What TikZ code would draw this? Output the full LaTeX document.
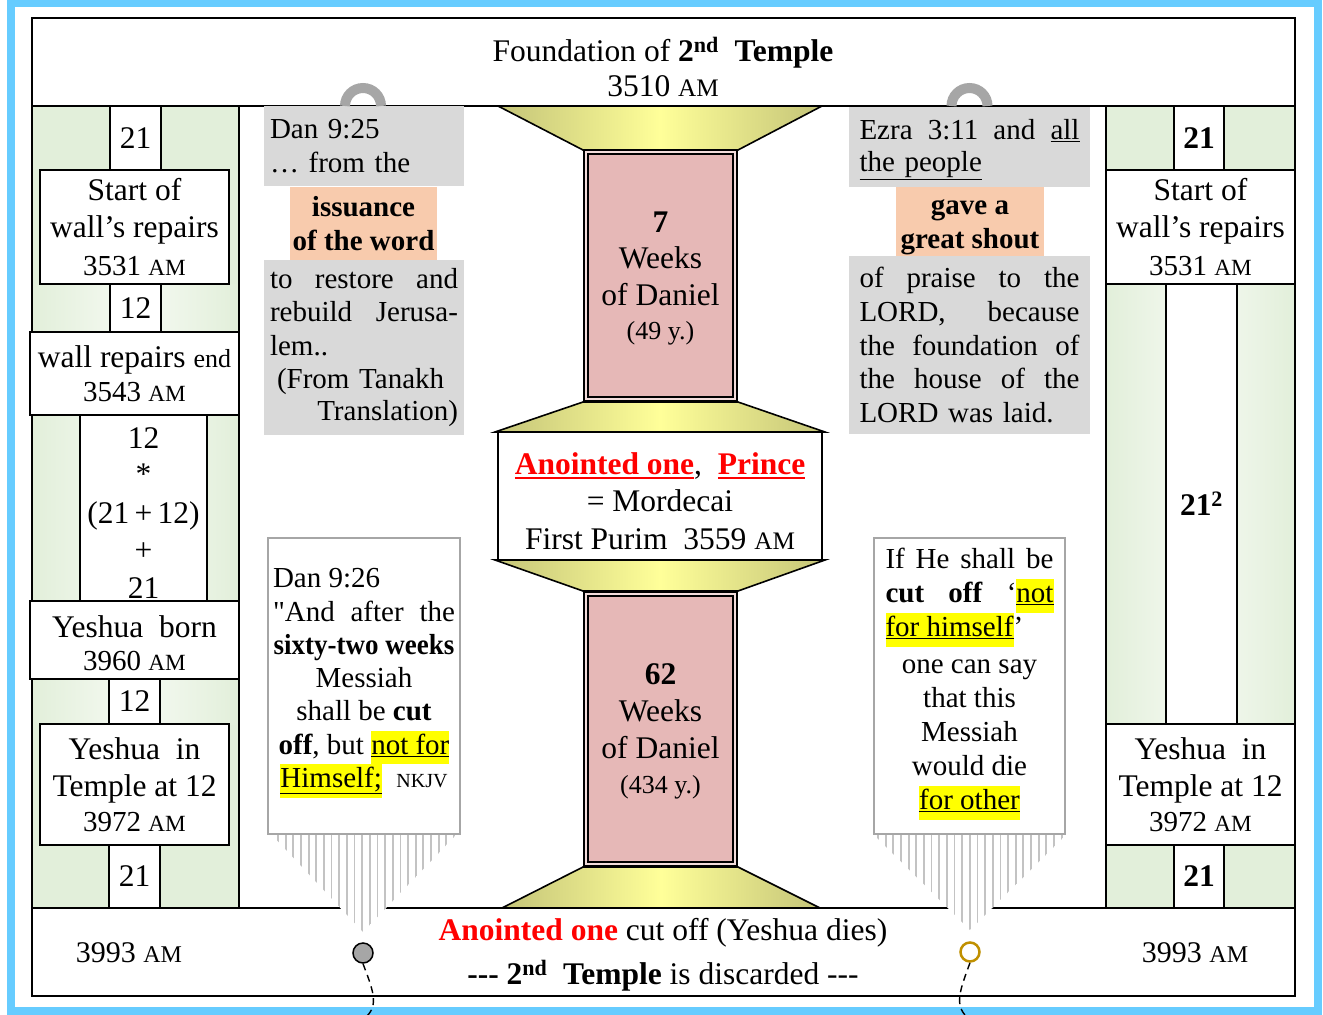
\documentclass[tikz,border=0pt]{standalone}
\usepackage{fontspec}
\setmainfont{Liberation Serif}
\usepackage{graphicx}
\definecolor{bluefr}{RGB}{102,204,255}
\definecolor{grn}{RGB}{226,239,218}
\definecolor{grnl}{RGB}{246,250,243}
\definecolor{gbox}{RGB}{217,217,217}
\definecolor{obox}{RGB}{248,203,173}
\definecolor{pnk}{RGB}{230,184,183}
\definecolor{pnkl}{RGB}{242,220,219}
\definecolor{ylw}{RGB}{255,255,153}
\definecolor{olv}{RGB}{196,196,120}
\definecolor{frg}{RGB}{195,195,195}
\definecolor{gbd}{RGB}{166,166,166}
\definecolor{gold}{RGB}{192,144,0}
\definecolor{hly}{RGB}{255,255,0}
\definecolor{redt}{RGB}{255,0,0}
\newcommand\AM{\scalebox{0.8}{AM}}
\newcommand\dt[1]{{\fontsize{29}{34}\selectfont #1 \AM}}
\newcommand\hlu[1]{{\setlength\fboxsep{0pt}\colorbox{hly}{\strut\underline{#1}}}}
\newcommand\js{\hskip 0.25em plus 1fill\relax}
\newsavebox\ulbox
\newcommand\thul[1]{\sbox\ulbox{#1}\rlap{\rule[-5pt]{\wd\ulbox}{2.8pt}}\usebox\ulbox}
\begin{document}
\begin{tikzpicture}[x=1pt,y=-1pt,
  blk/.style={draw=black, line width=1.6pt},
  bigf/.style={font=\fontsize{31.5}{37.5}\selectfont},
  txtf/.style={font=\fontsize{29}{34}\selectfont},
  wbox/.style={blk, fill=white, inner sep=0pt, align=center, bigf},
  gbx/.style={fill=gbox, inner sep=0pt, align=left, txtf},
  obx/.style={fill=obox, inner sep=0pt, align=center, font=\fontsize{29}{34}\selectfont\bfseries},
  tbox/.style={draw=gbd, line width=1.5pt, fill=white, inner sep=0pt},
  pbox/.style={draw=black, line width=1.8pt, double=pnkl, double distance=2pt, fill=pnk, inner sep=0pt, align=center, bigf},
  trap/.style={draw=black, line width=1.6pt, left color=olv, right color=olv, middle color=ylw},
  fringe/.style={draw=frg, line width=1.8pt},
  dashln/.style={draw=black, line width=1.4pt, dash pattern=on 7pt off 5pt},
  ring/.style={draw=gbd, line width=10pt},
  plain/.style={inner sep=0pt, align=center}]
\useasboundingbox (0,0) rectangle (1323,1015);
\fill[white] (0,0) rectangle (1323,1015);
\draw[bluefr, line width=8pt] (11,3) rectangle (1318,1011);
% main frame
\draw[blk] (32,18) rectangle (1295,996);
\draw[blk] (32,106) -- (1295,106);
\draw[blk] (32,908) -- (1295,908);
% title
\node[plain, bigf] (title) at (663,67) {Foundation of \textbf{2\textsuperscript{nd}}\ \ \textbf{Temple}\\[-3pt]3510 \AM};
% left column
\fill[grn] (32,106) rectangle (239,908);
\shade[left color=grn, right color=grn, middle color=grnl] (32,284) rectangle (239,332);
\shade[left color=grn, right color=grn, middle color=grnl] (32,415) rectangle (239,601);
\shade[left color=grn, right color=grn, middle color=grnl] (32,679) rectangle (239,724);
\draw[blk] (32,106) rectangle (239,908);
\node[wbox, minimum width=51, minimum height=64] (l21a) at (135.5,138) {21};
\node[wbox, minimum width=189, minimum height=114] (lsr) at (134.5,227) {Start of\\wall's repairs\\\dt{3531}};
\node[wbox, minimum width=51, minimum height=48] (l12a) at (135.5,308) {12};
\node[wbox, minimum width=209, minimum height=83] (lwe) at (134.5,373.5) {wall repairs {\fontsize{26}{31}\selectfont end}\\[-3pt]\dt{3543}};
\node[wbox, minimum width=127, minimum height=186] (lcalc) at (143.5,508) {\rule{0pt}{30pt}12\\[-1pt]*\\[1pt](21\,+\,12)\\+\\21};
\node[wbox, minimum width=209, minimum height=78] (lyb) at (134.5,640) {\rule{0pt}{28pt}Yeshua\ \ born\\[-4pt]\dt{3960}};
\node[wbox, minimum width=51, minimum height=45] (l12b) at (134.5,701.5) {12};
\node[wbox, minimum width=189, minimum height=121] (lyt) at (134.5,784.5) {Yeshua\ \ in\\Temple at 12\\[-3pt]\dt{3972}};
\node[wbox, minimum width=51, minimum height=63] (l21b) at (134.5,876.5) {21};
% right column
\fill[grn] (1106,106) rectangle (1295,908);
\shade[left color=grn, right color=grn, middle color=grnl] (1106,284) rectangle (1295,724);
\draw[blk] (1106,106) rectangle (1295,908);
\node[wbox, minimum width=50, minimum height=64] (r21a) at (1199,138) {\textbf{21}};
\node[wbox, minimum width=189, minimum height=114] (rsr) at (1200.5,227) {Start of\\wall's repairs\\\dt{3531}};
\node[wbox, minimum width=71, minimum height=440] (rsq) at (1201.5,504) {\textbf{21\textsuperscript{2}}};
\node[wbox, minimum width=189, minimum height=121] (ryt) at (1200.5,784.5) {Yeshua\ \ in\\Temple at 12\\[-3pt]\dt{3972}};
\node[wbox, minimum width=50, minimum height=63] (r21b) at (1199,876.5) {\textbf{21}};
% bottom band texts
\node[plain, font=\fontsize{30}{36}\selectfont] (ld) at (129,953) {3993 \AM};
\node[plain, font=\fontsize{30}{36}\selectfont] (rd) at (1195,953) {3993 \AM};
\node[plain, bigf] (btxt) at (663,955) {\textcolor{redt}{\textbf{Anointed one}} cut off (Yeshua dies)\\[6pt]\textbf{\mbox{-}\mbox{-}\mbox{-} 2\textsuperscript{nd}\ \ Temple} is discarded \mbox{-}\mbox{-}\mbox{-}};
% central column
\draw[trap] (498,106) -- (822,106) -- (738,150) -- (583,150) -- cycle;
\draw[trap] (583,402) -- (738,402) -- (825,432) -- (495,432) -- cycle;
\draw[trap] (495,560) -- (825,560) -- (738,591) -- (583,591) -- cycle;
\draw[trap] (583,867) -- (738,867) -- (820,908) -- (502,908) -- cycle;
\node[pbox, minimum width=149.5, minimum height=247.5] (w7) at (660.5,275.5) {\rule{0pt}{27pt}\textbf{7}\\[-2pt]Weeks\\of Daniel\\[-4pt]{\fontsize{26}{31}\selectfont (49 y.)}};
\node[pbox, minimum width=149.5, minimum height=270.5] (w62) at (660.5,729) {\rule{0pt}{26pt}\textbf{62}\\[-1pt]Weeks\\of Daniel\\[-3pt]{\fontsize{26}{31}\selectfont (434 y.)}};
\node[wbox, minimum width=324, minimum height=128] (anoint) at (660,496) {\rule{0pt}{32pt}\textcolor{redt}{\thul{\textbf{Anointed one}}}, \ \textcolor{redt}{\thul{\textbf{Prince}}}\\= Mordecai\\First Purim\ \ 3559 \AM};
% left quote boxes
\node[gbx, minimum width=200, minimum height=80, text width=188] (g1) at (364,146) {Dan 9:25\\… from the};
\node[obx, minimum width=147, minimum height=73] (o1) at (363.5,223.5) {\rule{0pt}{21pt}issuance\\of the word};
\node[gbx, minimum width=200, minimum height=175, text width=188] (g2) at (364,347.5) {\makebox[188pt][l]{to\js restore\js and}\\[-1pt]\makebox[188pt][l]{rebuild\js Jerusa-}\\lem..\\[-1pt]\hspace*{7pt}(From Tanakh\\[-2pt]\makebox[188pt][r]{Translation)}};
% right quote boxes
\node[gbx, minimum width=241, minimum height=80, text width=220] (g3) at (969.5,147) {\rule{0pt}{26pt}\makebox[220pt][l]{Ezra\js 3:11\js and\js\underline{all}}\\[-2pt]\underline{the people}};
\node[obx, minimum width=148, minimum height=71] (o2) at (970,222.5) {\rule{0pt}{25pt}gave a\\great shout};
\node[gbx, minimum width=241, minimum height=178, text width=220] (g4) at (969.5,345) {\makebox[220pt][l]{of\js praise\js to\js the}\\\makebox[220pt][l]{LORD,\js because}\\\makebox[220pt][l]{the\js foundation\js of}\\[-1pt]\makebox[220pt][l]{the\js house\js of\js the}\\LORD was laid.};
% fringes
\fill[white] (272,835) -- (456,835) -- (363,932) -- cycle;
\begin{scope}
\clip (272,835) -- (456,835) -- (363,932) -- cycle;
\foreach \i in {0,...,23} \draw[fringe] ({278+\i*7.65},834) -- ++(0,100);
\end{scope}
\fill[white] (874,835) -- (1066,835) -- (970,930) -- cycle;
\begin{scope}
\clip (874,835) -- (1066,835) -- (970,930) -- cycle;
\foreach \i in {0,...,24} \draw[fringe] ({878+\i*7.65},834) -- ++(0,100);
\end{scope}
% lower text boxes
\node[tbox, minimum width=192, minimum height=296] (d26) at (364,686) {};
\node[plain, font=\fontsize{29}{33.3}\selectfont] (d26t) at (364,683) {\makebox[182pt][l]{Dan 9:26}\\\makebox[182pt][s]{\textquotedbl And after the}\\\scalebox{0.93}[1]{\textbf{sixty-two weeks}}\\Messiah\\shall be \textbf{cut}\\\textbf{off}, but \hlu{not for}\\\hlu{Himself;}\ \ {\fontsize{20}{24}\selectfont NKJV}};
\node[tbox, minimum width=191, minimum height=296] (cut) at (969.5,686) {};
\node[plain, txtf] (cutt) at (969.5,684) {\makebox[168pt][s]{If He shall be}\\\makebox[168pt][s]{\textbf{cut} \textbf{off} `\hlu{not}}\\\makebox[168pt][l]{\hlu{for himself}'}\\[3pt]one can say\\that this\\Messiah\\would die\\\hlu{for other}};
% circles and dashed tails
\node[circle, draw=black, fill=gbd, line width=1.5pt, minimum size=20, inner sep=0pt] (lc) at (363,953) {};
\node[circle, draw=gold, fill=white, line width=2.5pt, minimum size=19, inner sep=0pt] (rc) at (970,952) {};
\coordinate (lend) at (366,1017);
\coordinate (rend) at (967,1017);
\draw[dashln] (lc.south) .. controls (373,990) and (379,1005) .. (lend);
\draw[dashln] (rc.south) .. controls (960,990) and (954,1005) .. (rend);
% rings on top line
\draw[ring] (345,106) arc[start angle=180, end angle=0, radius=18pt];
\draw[ring] (951.5,106) arc[start angle=180, end angle=0, radius=18pt];
\end{tikzpicture}
\end{document}
